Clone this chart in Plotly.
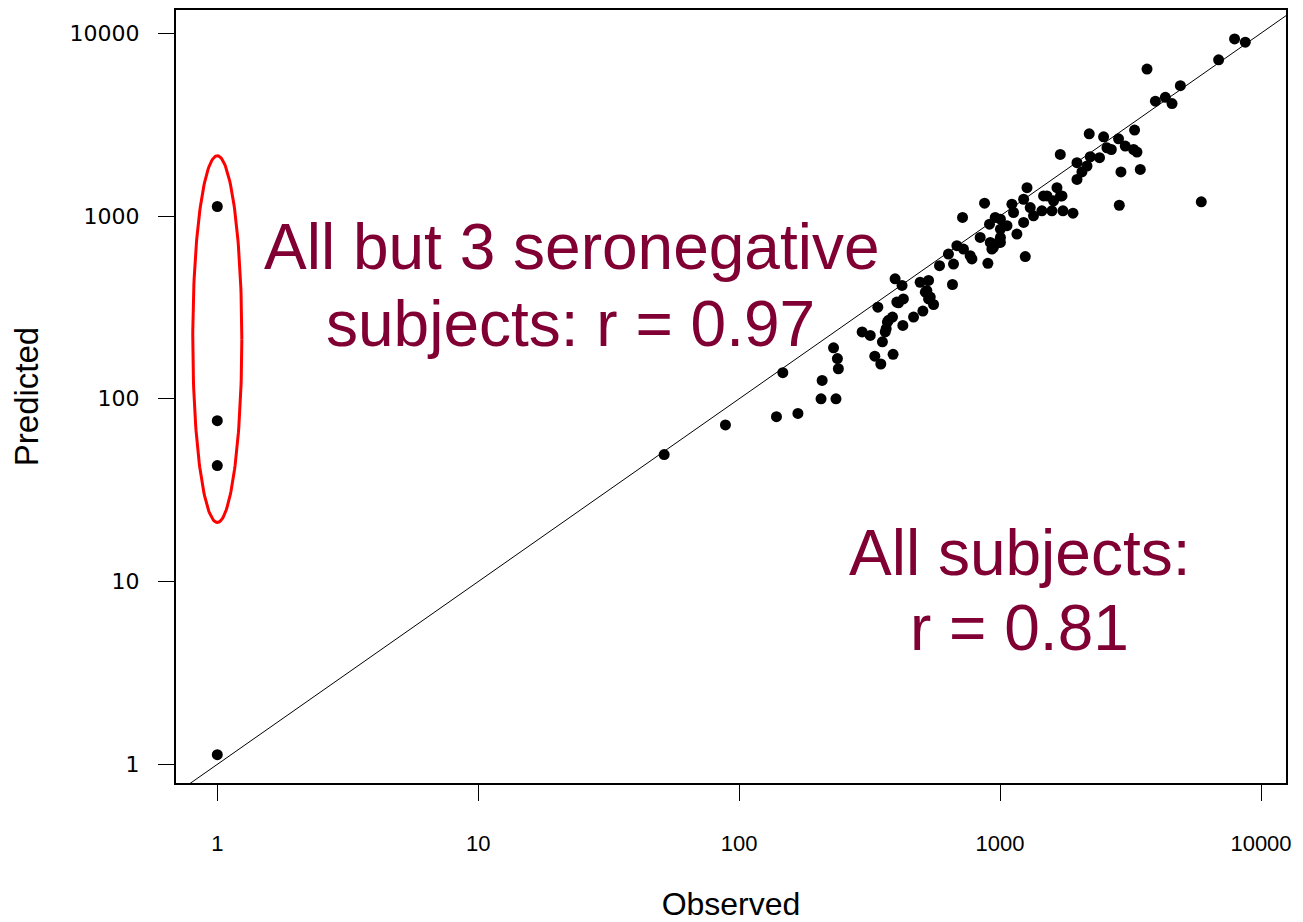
import numpy as np
import plotly.graph_objects as go

# seronegative subjects (observed = 1)
neg_obs = [1, 1, 1, 1]
neg_pred = [1127, 75.9, 43.1, 1.13]

# everybody else
obs = [51.6, 88.6, 139, 168, 147, 206, 235, 208, 230, 238, 240, 296, 318, 331, 349,
       389, 340, 354, 366, 374, 387, 402, 426, 424, 396, 421, 466, 506, 494, 532,
       517, 556, 586, 634, 663, 657, 683, 724, 768, 780, 718, 898, 839, 911, 958,
       1003, 917, 944, 986, 1063, 1003, 1160, 872, 1110, 1126, 1249, 1268, 1231, 1231, 1305,
       1343, 1468, 1446, 1580, 1603, 1652, 1727, 1742, 1903, 1971, 1971, 2059, 2153, 1701, 2216,
       2405, 2196, 2493, 2568, 2669, 2845, 3018, 3249, 3347, 3277, 2906, 3446, 3657, 3938, 4299,
       4560, 4908, 6880, 2864, 5904, 7920, 8706, 363, 370, 408, 524, 532, 1003, 1513, 1704,
       930, 1003, 540]
pred = [49.5, 71.9, 79.8, 83.2, 139, 100, 100, 126, 190, 166, 146, 232, 222, 171, 155,
        175, 317, 205, 242, 269, 280, 338, 352, 252, 453, 417, 280, 302, 434, 444,
        383, 328, 535, 619, 546, 422, 688, 659, 607, 582, 982, 551, 763, 902, 982,
        847, 717, 674, 717, 885, 763, 796, 1175, 1160, 1045, 600, 1429, 1235, 922, 1112,
        1002, 1288, 1067, 1067, 1210, 1429, 1288, 1067, 1036, 1585, 1958, 1741, 1877, 2173, 2109,
        2084, 2817, 2711, 2361, 2311, 2644, 2413, 2311, 2238, 2950, 1741, 1799, 6365, 4246, 4459,
        4121, 5164, 7153, 1145, 1195, 9310, 8933, 232, 263, 335, 391, 352, 961, 1288, 1288,
        659, 717, 360]

tick_vals = [1, 10, 100, 1000, 10000]
tick_text = ["1", "10", "100", "1000", "10000"]

maroon = "#800033"

fig = go.Figure()

# identity line
fig.add_trace(go.Scatter(x=[0.01, 1e6], y=[0.01, 1e6], mode="lines",
                         line=dict(color="black", width=1), hoverinfo="skip"))

fig.add_trace(go.Scatter(x=obs + neg_obs, y=pred + neg_pred, mode="markers",
                         marker=dict(color="black", size=11), hoverinfo="skip"))

# red ellipse around the seronegatives (drawn in log space)
t = np.linspace(0, 2 * np.pi, 200)
cx, cy = 0.0, np.log10(212)
rx, ry = 0.094, 1.003
fig.add_trace(go.Scatter(x=10 ** (cx + rx * np.cos(t)), y=10 ** (cy + ry * np.sin(t)),
                         mode="lines", line=dict(color="red", width=3), hoverinfo="skip"))

big = dict(family="Liberation Sans, Arial", size=64, color=maroon)
for txt, x, y in [("All but 3 seronegative", 0.357, 0.693),
                  ("subjects: r = 0.97", 0.355, 0.594),
                  ("All subjects:", 0.760, 0.298),
                  ("r = 0.81", 0.760, 0.201)]:
    fig.add_annotation(text=txt, x=x, y=y, xref="paper", yref="paper",
                       showarrow=False, font=big, xanchor="center", yanchor="middle")

# page body has an 8px margin, so the figure is sized to end at the window edge
fig.update_layout(
    width=1295, height=914,
    margin=dict(l=168, r=17, t=2, b=139),
    plot_bgcolor="white", paper_bgcolor="white",
    showlegend=False,
    font=dict(family="Liberation Sans, Arial", color="black"),
)
fig.update_xaxes(type="log", range=[-0.1583, 4.0958], tickvals=tick_vals, ticktext=tick_text,
                 showgrid=False, zeroline=False, showline=True, mirror=True,
                 linecolor="black", linewidth=2, ticks="outside", ticklen=16,
                 tickcolor="black", tickwidth=1, ticklabelstandoff=24,
                 tickfont=dict(size=22), automargin=False,
                 title=dict(text="Observed", font=dict(size=32), standoff=46))
fig.update_yaxes(type="log", range=[-0.102, 4.127], tickvals=tick_vals, ticktext=tick_text,
                 showgrid=False, zeroline=False, showline=True, mirror=True,
                 linecolor="black", linewidth=2, ticks="outside", ticklen=16,
                 tickcolor="black", tickwidth=1, ticklabelstandoff=14,
                 tickfont=dict(family="DejaVu Sans", size=22), automargin=False,
                 title=dict(text="Predicted", font=dict(size=33), standoff=23))

fig.write_html("out.html")
